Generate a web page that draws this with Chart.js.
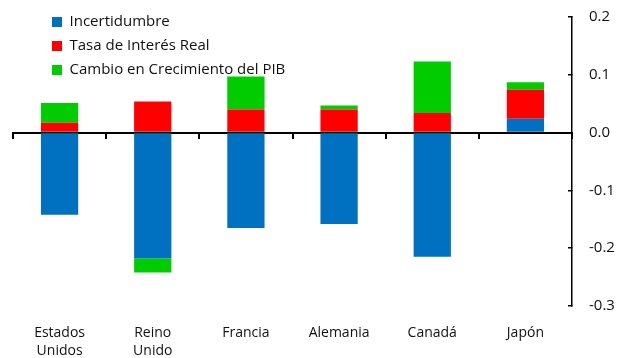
<!DOCTYPE html>
<html>
<head>
<meta charset="utf-8">
<script src="https://cdn.jsdelivr.net/npm/chart.js@4.4.0/dist/chart.umd.min.js"></script>
<style>
  body { margin: 0; background: #fff; }
</style>
</head>
<body>
<canvas id="chart" width="618" height="358"></canvas>
<script>
"use strict"

const paises = [["Estados", "Unidos"], ["Reino", "Unido"], "Francia", "Alemania", "Canadá", "Japón"];
const incertidumbre = [-0.142, -0.218, -0.165, -0.158, -0.215, 0.024];
const tasaReal = [0.017, 0.054, 0.040, 0.040, 0.034, 0.050];
const cambioPib = [0.034, -0.024, 0.057, 0.007, 0.089, 0.013];
const yMin = -0.3, yMax = 0.2, yStep = 0.1;

const fontFam = "'Open Sans', 'DejaVu Sans', sans-serif";

// put the legend in the top-left corner of the plot, over the bars
const legendShift = {
  id: 'legendShift',
  afterLayout(chart) {
    chart.legend.left = chart.chartArea.left + 30;
    chart.legend.top = chart.chartArea.top - 11.5;
  }
};

const ctx = document.getElementById('chart').getContext('2d');
new Chart(ctx, {
  type: 'bar',
  data: {
    labels: paises,
    datasets: [
      { label: 'Incertidumbre', data: incertidumbre, backgroundColor: '#0070C0' },
      { label: 'Tasa de Interés Real', data: tasaReal, backgroundColor: '#FF0000' },
      { label: 'Cambio en Crecimiento del PIB', data: cambioPib, backgroundColor: '#00CC00' }
    ]
  },
  options: {
    responsive: false,
    animation: false,
    layout: { padding: { left: 13, top: 17, right: 0, bottom: 0 } },
    datasets: { bar: { categoryPercentage: 1, barPercentage: 0.4 } },
    plugins: {
      tooltip: { enabled: false },
      legend: {
        position: 'chartArea',
        align: 'start',
        labels: {
          boxWidth: 10,
          boxHeight: 10,
          padding: 9,
          color: '#111',
          font: { family: fontFam, size: 15 }
        }
      }
    },
    scales: {
      x: {
        stacked: true,
        afterFit(scale) { scale.height = 52; },
        grid: { display: false, drawTicks: false },
        border: { display: false },
        ticks: {
          color: '#111',
          padding: 18,
          maxRotation: 0,
          autoSkip: false,
          font: { family: fontFam, size: 14, lineHeight: 1.3 }
        }
      },
      x2: {
        type: 'category',
        position: { y: 0 },
        offset: true,
        grid: { offset: true, drawOnChartArea: false, tickLength: 5, lineWidth: 2, color: '#000' },
        border: { display: true, color: '#000', width: 2 },
        ticks: { display: false }
      },
      y: {
        stacked: true,
        position: 'right',
        min: yMin,
        max: yMax,
        afterFit(scale) {
          scale.width = 46;
          scale.paddingTop = 0;
          scale.paddingBottom = 0;
        },
        grid: { drawOnChartArea: false, tickLength: -4, lineWidth: 1.5, color: '#000' },
        border: { display: true, color: '#000', width: 1.5 },
        ticks: {
          stepSize: yStep,
          padding: 21,
          color: '#111',
          font: { family: fontFam, size: 15 },
          callback: v => v.toFixed(1)
        }
      }
    }
  },
  plugins: [legendShift]
});
</script>
</body>
</html>
